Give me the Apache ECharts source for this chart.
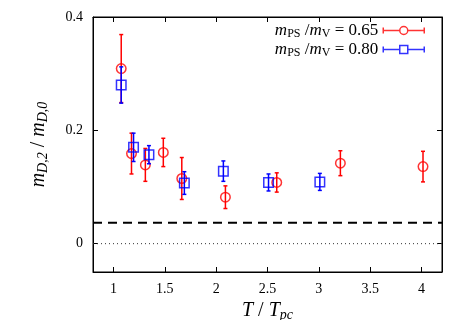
<!DOCTYPE html>
<html><head><meta charset="utf-8">
<script src="https://cdn.jsdelivr.net/npm/echarts@6/dist/echarts.min.js"></script>
<style>html,body{margin:0;padding:0;background:#fff}#c{width:458px;height:320px}</style>
</head><body><div id="c"></div>
<script>
// Data
const T065 = [1.075, 1.175, 1.31, 1.485, 1.665, 2.09, 2.59, 3.21, 4.015];
const R065 = [0.309, 0.159, 0.139, 0.161, 0.115, 0.082, 0.108, 0.142, 0.136];
const E065 = [0.060, 0.036, 0.029, 0.025, 0.037, 0.020, 0.017, 0.022, 0.027];
const T080 = [1.075, 1.195, 1.345, 1.69, 2.07, 2.51, 3.01];
const R080 = [0.280, 0.170, 0.157, 0.107, 0.128, 0.108, 0.109];
const E080 = [0.032, 0.025, 0.016, 0.020, 0.018, 0.015, 0.015];
const dashedLevel = 0.037;
const zeroLevel = 0;
const xTicks = [1, 1.5, 2, 2.5, 3, 3.5, 4];
const yTicks = [0, 0.2, 0.4];
const xRange = [0.8, 4.2];
const yRange = [-0.05, 0.4];

const FONT = '"Liberation Serif", "DejaVu Serif", serif';
const RED = '#ff0000', BLUE = '#0000ff';

function errRender(color) {
  return function (params, api) {
    const x = api.value(0), y = api.value(1), e = api.value(2);
    const p = api.coord([x, y + e]), q = api.coord([x, y - e]);
    const cw = 2;
    const st = { stroke: color, lineWidth: 1.5 };
    return { type: 'group', children: [
      { type: 'line', shape: { x1: p[0], y1: p[1], x2: q[0], y2: q[1] }, style: st },
      { type: 'line', shape: { x1: p[0] - cw, y1: p[1], x2: p[0] + cw, y2: p[1] }, style: st },
      { type: 'line', shape: { x1: q[0] - cw, y1: q[1], x2: q[0] + cw, y2: q[1] }, style: st }
    ]};
  };
}

const circIcon = 'path://M0 2 L0 8 M0 5 L16.5 5 M24.5 5 L41 5 M41 2 L41 8 M24.5 5 A4 4 0 1 1 16.5 5 A4 4 0 1 1 24.5 5';
const sqIcon = 'path://M0 2 L0 8 M0 5 L16.5 5 M24.5 5 L41 5 M41 2 L41 8 M16.5 1 L24.5 1 L24.5 9 L16.5 9 Z';

const legendNames = {
  r065: '{i|m}{s|PS}{n| /}{i|m}{s|V}{n| = 0.65}',
  b080: '{i|m}{s|PS}{n| /}{i|m}{s|V}{n| = 0.80}'
};

const legendRich = {
  i: { fontFamily: FONT, fontStyle: 'italic', fontSize: 17, lineHeight: 19, color: '#000' },
  n: { fontFamily: FONT, fontSize: 17, lineHeight: 19, color: '#000' },
  s: { fontFamily: FONT, fontSize: 12, lineHeight: 10, verticalAlign: 'bottom', color: '#000' }
};
const titleRich = {
  i: { fontFamily: FONT, fontStyle: 'italic', fontSize: 20, lineHeight: 22, color: '#000' },
  n: { fontFamily: FONT, fontSize: 20, lineHeight: 22, color: '#000' },
  si: { fontFamily: FONT, fontStyle: 'italic', fontSize: 14, lineHeight: 10, verticalAlign: 'bottom', color: '#000' }
};

const chart = echarts.init(document.getElementById('c'), null, { renderer: 'canvas' });
const axisCommon = {
  type: 'value',
  axisLine: { show: true, onZero: false, lineStyle: { color: '#000', width: 1 } },
  splitLine: { show: false }
};
const tickStyle = vals => ({ show: true, inside: true, length: 5, customValues: vals, lineStyle: { color: '#000' } });
chart.setOption({
  animation: false,
  grid: { left: 93, right: 16, top: 17, bottom: 48, containLabel: false, outerBoundsMode: 'none', show: true,
          borderColor: '#000', borderWidth: 1, backgroundColor: 'transparent' },
  legend: {
    orient: 'vertical', align: 'right', right: 28, top: 17, padding: 5,
    itemWidth: 41, itemHeight: 9, itemGap: 1, selectedMode: false,
    formatter: n => legendNames[n],
    textStyle: { fontFamily: FONT, fontSize: 17, rich: legendRich },
    data: [
      { name: 'r065', icon: circIcon, itemStyle: { color: 'transparent', borderColor: RED, borderWidth: 1.5 } },
      { name: 'b080', icon: sqIcon, itemStyle: { color: 'transparent', borderColor: BLUE, borderWidth: 1.5 } }
    ]
  },
  xAxis: [
    Object.assign({}, axisCommon, {
      min: xRange[0], max: xRange[1], position: 'bottom',
      axisTick: tickStyle(xTicks),
      axisLabel: { customValues: xTicks, fontFamily: FONT, fontSize: 14, color: '#000', margin: 10 },
      name: '{i|T}{n| / }{i|T}{si|pc}', nameLocation: 'middle', nameGap: 28,
      nameTextStyle: { rich: titleRich }
    }),
    Object.assign({}, axisCommon, {
      min: xRange[0], max: xRange[1], position: 'top',
      axisTick: tickStyle(xTicks),
      axisLabel: { show: false }
    })
  ],
  yAxis: [
    Object.assign({}, axisCommon, {
      min: yRange[0], max: yRange[1], position: 'left',
      axisTick: tickStyle(yTicks),
      axisLabel: { customValues: yTicks, fontFamily: FONT, fontSize: 14, color: '#000', margin: 10 },
      name: '{i|m}{si|D,2}{n| / }{i|m}{si|D,0}', nameLocation: 'middle', nameGap: 43, nameRotate: 90,
      nameTextStyle: { rich: titleRich }
    }),
    Object.assign({}, axisCommon, {
      min: yRange[0], max: yRange[1], position: 'right',
      axisTick: tickStyle(yTicks),
      axisLabel: { show: false }
    })
  ],
  series: [
    { type: 'line', name: 'zero', xAxisIndex: 1, yAxisIndex: 1,
      data: [[xRange[0], zeroLevel], [xRange[1], zeroLevel]], symbol: 'none',
      lineStyle: { color: '#333', width: 1, type: [1, 3] }, silent: true },
    { type: 'line', name: 'dash', data: [[xRange[0], dashedLevel], [xRange[1], dashedLevel]], symbol: 'none',
      lineStyle: { color: '#000', width: 2, type: [9, 6] }, silent: true },
    { type: 'custom', name: 'err065', renderItem: errRender(RED),
      data: T065.map((t, i) => [t, R065[i], E065[i]]), encode: { x: 0, y: 1 }, z: 3 },
    { type: 'scatter', name: 'r065', data: T065.map((t, i) => [t, R065[i]]),
      symbol: 'circle', symbolSize: 9.5,
      itemStyle: { color: 'transparent', borderColor: RED, borderWidth: 1.5 }, z: 4 },
    { type: 'custom', name: 'err080', renderItem: errRender(BLUE),
      data: T080.map((t, i) => [t, R080[i], E080[i]]), encode: { x: 0, y: 1 }, z: 5 },
    { type: 'scatter', name: 'b080', data: T080.map((t, i) => [t, R080[i]]),
      symbol: 'rect', symbolSize: 9.5,
      itemStyle: { color: 'transparent', borderColor: BLUE, borderWidth: 1.5 }, z: 6 }
  ]
});
</script></body></html>
